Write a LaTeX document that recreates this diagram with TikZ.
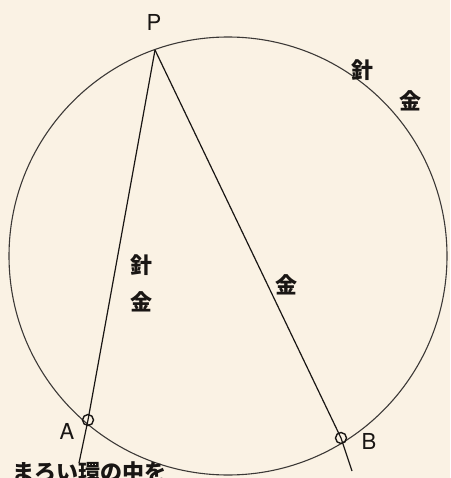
\documentclass[tikz,border=0pt]{standalone}
\usepackage{fontspec}
\setmainfont{TeX Gyre Heros}
\newfontfamily\cjk{Noto Sans CJK JP}
\definecolor{paper}{RGB}{250,242,228}
\definecolor{ink}{RGB}{25,22,20}
\begin{document}
\begin{tikzpicture}[x=1pt,y=-1pt,
  wire/.style={draw=ink,line width=1.2pt},
  ring/.style={draw=ink!85,line width=1.1pt},
  hole/.style={circle,draw=ink,line width=1.4pt,minimum size=11pt,inner sep=0pt},
  kanji/.style={font=\cjk\bfseries\fontsize{22}{24}\selectfont,text=ink,inner sep=0pt},
  letter/.style={font=\fontsize{22}{24}\selectfont,text=ink,inner sep=0pt}]
\fill[paper] (0,0) rectangle (450,478);
\useasboundingbox (0,0) rectangle (450,478);
\coordinate (O) at (228,256);
\draw[ring] (O) circle[radius=219];
\coordinate (P) at (155,50);
\node[hole] (A) at (88,420) {};
\node[hole] (B) at (341,438) {};
\coordinate (Aend) at (79,463);
\coordinate (Bend) at (352,471);
\draw[wire] (P) -- (A.center) -- (Aend);
\draw[wire] (P) -- (B.center) -- (Bend);
\node[letter] (lP) at (154,22) {P};
\node[letter] (lA) at (67,431) {A};
\node[letter] (lB) at (369,441) {B};
\node[kanji] (k1) at (362,70) {針};
\node[kanji] (k2) at (410,101) {金};
\node[kanji] (k3) at (141,265) {針};
\node[kanji] (k4) at (141,302) {金};
\node[kanji] (k5) at (286,285) {金};
\node[kanji,anchor=north west] (cap) at (12,461) {まろい環の中を};
\end{tikzpicture}
\end{document}
